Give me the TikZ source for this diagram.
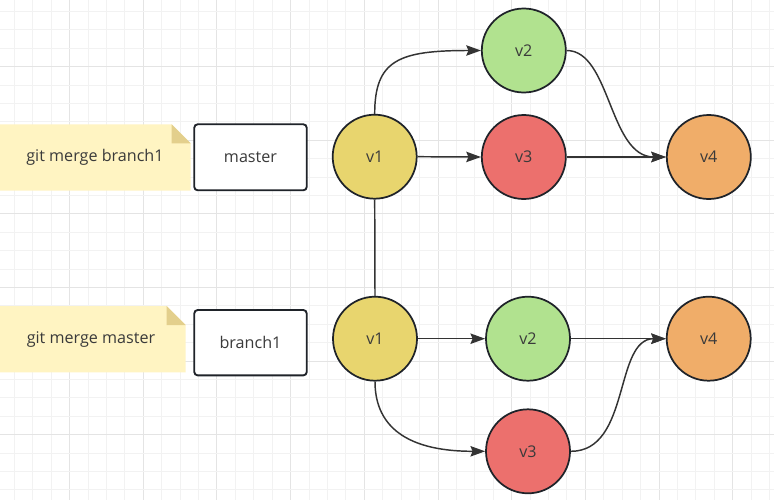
\documentclass[tikz,border=0pt]{standalone}
\usepackage{fontspec}
\setmainfont{Open Sans}
\usetikzlibrary{arrows.meta}

\definecolor{gridminor}{HTML}{F2F2F2}
\definecolor{gridmajor}{HTML}{E4E4E4}
\definecolor{inkc}{HTML}{1F2329}
\definecolor{linec}{HTML}{333333}
\definecolor{txtc}{HTML}{3A3A3A}
\definecolor{notefill}{HTML}{FFF4C2}
\definecolor{notefold}{HTML}{E3CF8C}
\definecolor{cyellow}{HTML}{E8D56E}
\definecolor{cgreen}{HTML}{B1E28F}
\definecolor{cred}{HTML}{EC706D}
\definecolor{corange}{HTML}{F0AD69}

\tikzset{
  commit/.style={circle, draw=inkc, line width=1.3pt, minimum size=63pt,
    inner sep=0pt, text=txtc, font=\fontsize{12.1}{14}\selectfont},
  branchbox/.style={rectangle, rounded corners=2.5pt, draw=inkc, line width=1.4pt,
    fill=white, minimum width=84.3pt, inner sep=0pt, text=txtc,
    font=\fontsize{12.1}{14}\selectfont},
  notetext/.style={text=txtc, inner sep=0pt, font=\fontsize{12.1}{14}\selectfont},
  link/.style={draw=linec, line width=1.1pt},
  flow/.style={link, -{Stealth[length=11pt, width=7.8pt, inset=1.6pt]}},
}

\begin{document}
\begin{tikzpicture}[x=0.75pt, y=-0.75pt]
  % canvas
  \useasboundingbox (0,0) rectangle (774,500);
  \fill[white] (0,0) rectangle (774,500);

  % background grid: thin lines, every fourth one darker
  \foreach \i in {0,...,41} {
    \pgfmathsetmacro\gx{14.36+18.42*\i}
    \pgfmathtruncatemacro\gm{mod(\i,4)}
    \ifnum\gm=3
      \draw[gridmajor, line width=0.75pt] (\gx,0) -- (\gx,500);
    \else
      \draw[gridminor, line width=0.75pt] (\gx,0) -- (\gx,500);
    \fi
  }
  \foreach \j in {0,...,26} {
    \pgfmathsetmacro\gy{11.5+18.4*\j}
    \pgfmathtruncatemacro\gm{mod(\j,4)}
    \ifnum\gm=3
      \draw[gridmajor, line width=0.75pt] (0,\gy) -- (774,\gy);
    \else
      \draw[gridminor, line width=0.75pt] (0,\gy) -- (774,\gy);
    \fi
  }

  % sticky notes with folded corner
  \fill[notefill] (0,124.3) -- (171.7,124.3) -- (190.7,143.3) -- (190.7,190.7) -- (0,190.7) -- cycle;
  \fill[notefold] (171.7,124.3) -- (171.7,143.3) -- (190.7,143.3) -- cycle;
  \node[notetext] (note1) at (95,157.5) {git merge branch1};

  \fill[notefill] (0,306) -- (166.7,306) -- (185.7,325) -- (185.7,372.3) -- (0,372.3) -- cycle;
  \fill[notefold] (166.7,306) -- (166.7,325) -- (185.7,325) -- cycle;
  \node[notetext] (note2) at (91,339.3) {git merge master};

  % branch labels
  \node[branchbox, minimum height=49.5pt] (master) at (250.5,157.3) {master};
  \node[branchbox, minimum height=49pt] (branch) at (250.5,342.7) {branch1};

  % commits on master
  \node[commit, fill=cyellow] (v1a) at (374.7,156.7) {v1};
  \node[commit, fill=cgreen]  (v2a) at (523.8,50.5)  {v2};
  \node[commit, fill=cred]    (v3a) at (523.8,157)   {v3};
  \node[commit, fill=corange] (v4a) at (708.8,157)   {v4};

  % commits on branch1
  \node[commit, fill=cyellow] (v1b) at (375,338.7) {v1};
  \node[commit, fill=cgreen]  (v2b) at (528,338.7) {v2};
  \node[commit, fill=cred]    (v3b) at (528,451.3) {v3};
  \node[commit, fill=corange] (v4b) at (708.7,338.7) {v4};

  % shared root
  \draw[link] (v1a.south) -- (v1b.north);

  % master history
  \draw[flow] (v1a.north) .. controls +(0,-54) and +(-82,0) .. (v2a.west);
  \draw[flow] (v1a.east) -- (v3a.west);
  \draw[flow] (v2a.east) .. controls +(44,0) and +(-57,0) .. (v4a.west);
  \draw[flow] (v3a.east) -- (v4a.west);

  % branch1 history
  \draw[flow] (v1b.east) -- (v2b.west);
  \draw[flow] (v1b.south) .. controls +(0,39) and +(-86,0) .. (v3b.west);
  \draw[flow] (v2b.east) -- (v4b.west);
  \draw[flow] (v3b.east) .. controls +(60,0) and +(-52,0) .. (v4b.west);
\end{tikzpicture}
\end{document}
